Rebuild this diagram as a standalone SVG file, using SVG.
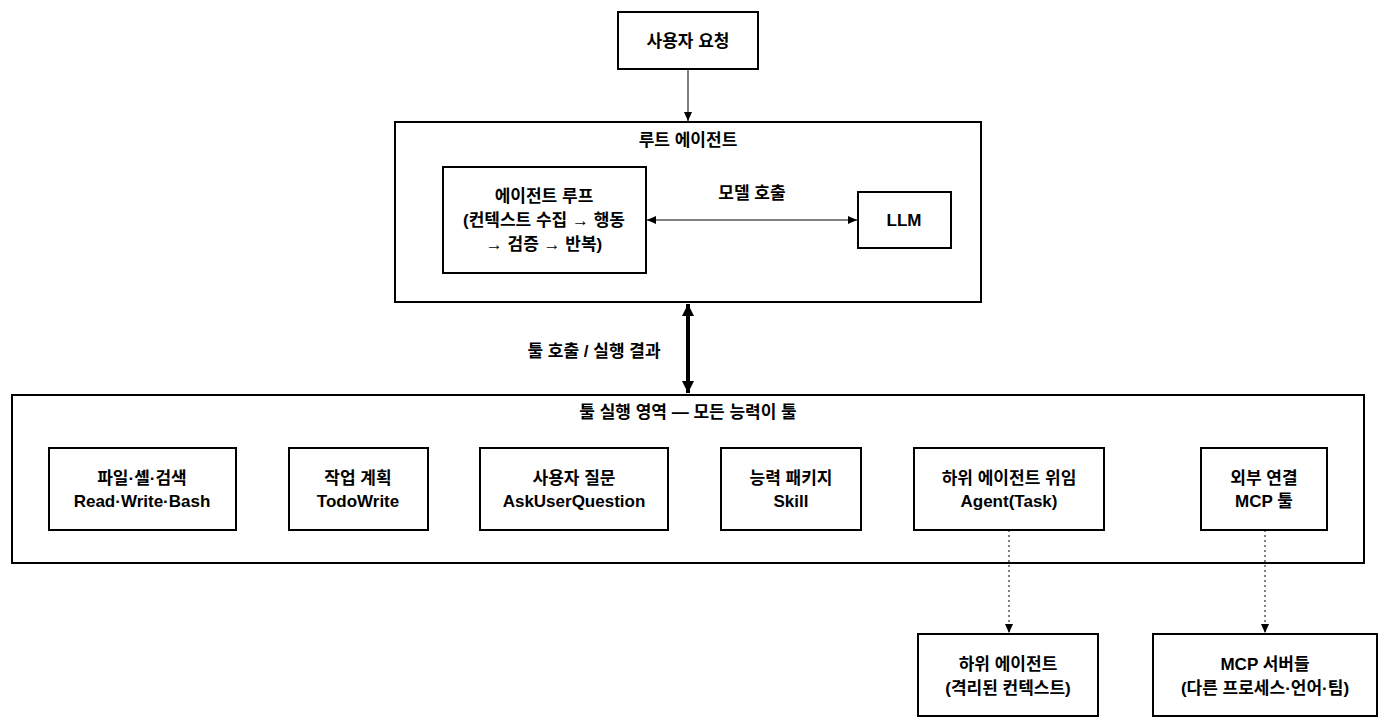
<svg xmlns="http://www.w3.org/2000/svg" width="1388" height="728" viewBox="0 0 1388 728">
<style>
rect{fill:#fff;stroke:#000;stroke-width:2}
text{font-family:"Liberation Sans","Noto Sans CJK KR",sans-serif;font-weight:bold;font-size:17px;text-anchor:middle;fill:#000}
.c{stroke:#000;fill:none}
</style>
<defs>
<marker id="a" markerWidth="10" markerHeight="10" refX="9" refY="5" orient="auto-start-reverse" markerUnits="userSpaceOnUse"><path d="M0,1 L9,5 L0,9 z" fill="#000"/></marker>
<marker id="b" markerWidth="14" markerHeight="14" refX="12" refY="7" orient="auto-start-reverse" markerUnits="userSpaceOnUse"><path d="M0,1 L12,7 L0,13 z" fill="#000"/></marker>
</defs>
<rect x="0" y="0" width="1388" height="728" style="stroke:none"/>
<g id="root"><rect x="395" y="122" width="586" height="180"/><text x="688" y="146">루트 에이전트</text></g>
<g id="tools"><rect x="12" y="395" width="1352" height="168"/><text x="688" y="418">툴 실행 영역 — 모든 능력이 툴</text></g>
<g id="user"><rect x="618" y="12" width="140" height="57"/><text x="688" y="47">사용자 요청</text></g>
<g id="loop"><rect x="443" y="167" width="203" height="106"/><text x="544" y="202">에이전트 루프</text><text x="544" y="226">(컨텍스트 수집 → 행동</text><text x="544" y="250">→ 검증 → 반복)</text></g>
<g id="llm"><rect x="858" y="192" width="93" height="56"/><text x="904" y="226">LLM</text></g>
<g id="t1"><rect x="49" y="448" width="187" height="82"/><text x="142" y="484">파일·셸·검색</text><text x="142" y="507">Read·Write·Bash</text></g>
<g id="t2"><rect x="289" y="448" width="139" height="82"/><text x="358" y="484">작업 계획</text><text x="358" y="507">TodoWrite</text></g>
<g id="t3"><rect x="480" y="448" width="188" height="82"/><text x="574" y="484">사용자 질문</text><text x="574" y="507">AskUserQuestion</text></g>
<g id="t4"><rect x="721" y="448" width="140" height="82"/><text x="791" y="484">능력 패키지</text><text x="791" y="507">Skill</text></g>
<g id="t5"><rect x="914" y="448" width="190" height="82"/><text x="1009" y="484">하위 에이전트 위임</text><text x="1009" y="507">Agent(Task)</text></g>
<g id="t6"><rect x="1201" y="448" width="126" height="82"/><text x="1264" y="484">외부 연결</text><text x="1264" y="507">MCP 툴</text></g>
<g id="sub"><rect x="918" y="634" width="180" height="82"/><text x="1008" y="670">하위 에이전트</text><text x="1008" y="694">(격리된 컨텍스트)</text></g>
<g id="mcp"><rect x="1153" y="634" width="224" height="82"/><text x="1265" y="670">MCP 서버들</text><text x="1265" y="694">(다른 프로세스·언어·팀)</text></g>
<g id="connectors">
<path class="c" d="M688,69 V121" marker-end="url(#a)"/>
<path class="c" d="M647,220 H857" marker-start="url(#a)" marker-end="url(#a)"/>
<text x="752" y="199">모델 호출</text>
<path class="c" d="M688,304 V393" stroke-width="4" marker-start="url(#b)" marker-end="url(#b)"/>
<text x="594" y="357">툴 호출 / 실행 결과</text>
<path class="c" d="M1009,530 V633" stroke-dasharray="2,3" marker-end="url(#a)"/>
<path class="c" d="M1265,530 V633" stroke-dasharray="2,3" marker-end="url(#a)"/>
</g>
</svg>
